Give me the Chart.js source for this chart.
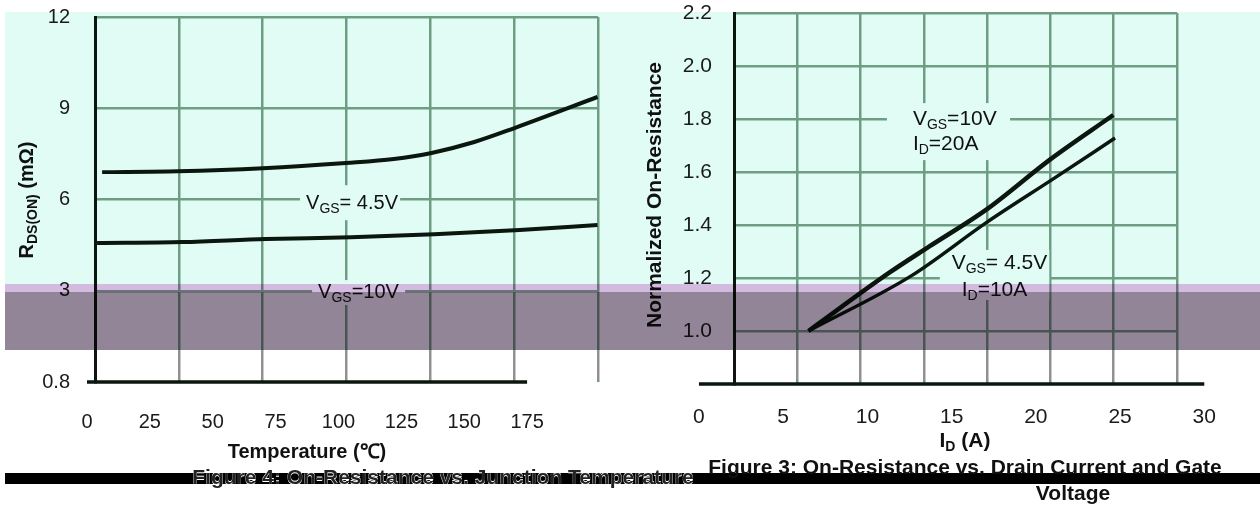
<!DOCTYPE html>
<html><head><meta charset="utf-8">
<script src="https://cdn.jsdelivr.net/npm/chart.js@4.4.1/dist/chart.umd.min.js"></script>
<style>
html,body{margin:0;padding:0;background:#fff;}
#stage{position:relative;width:1260px;height:506px;overflow:hidden;font-family:"Liberation Sans",Arial,sans-serif;}
.bg{position:absolute;left:5px;top:12px;width:1255px;height:338px;background:#e0fcf5;}
canvas{position:absolute;top:0;}
#cL{left:0;} #cR{left:620px;}
.strip{position:absolute;left:5px;width:1255px;mix-blend-mode:multiply;pointer-events:none;}
#lav{top:284px;height:8px;background:#efbde8;}
#band{top:292px;height:58px;background:#a6879e;}
#gray{position:absolute;left:0;top:350px;width:1260px;height:30px;backdrop-filter:grayscale(1);-webkit-backdrop-filter:grayscale(1);}
#bar{position:absolute;left:5px;top:473px;width:1255px;height:11px;background:#000;}
.cap{position:absolute;font-weight:bold;font-size:21px;white-space:nowrap;transform:translate(-50%,-50%);line-height:1;color:#111;}
#capL{left:443px;top:476px;color:#222;text-shadow:0 -1px 0 #fff,0 1px 0 #fff;}
#capR1{left:965px;top:466px;}
#capR2{left:1073px;top:492px;}
</style></head>
<body>
<div id="stage">
  <div class="bg"></div>
  <canvas id="cL" width="620" height="506"></canvas>
  <canvas id="cR" width="640" height="506"></canvas>
  <div id="lav" class="strip"></div>
  <div id="band" class="strip"></div>
  <div id="gray"></div>
  <div id="bar"></div>
  <div id="capL" class="cap">Figure 4: On-Resistance vs. Junction Temperature</div>
  <div id="capR1" class="cap">Figure 3: On-Resistance vs. Drain Current and Gate</div>
  <div id="capR2" class="cap">Voltage</div>
</div>
<script>
// ---------------- data ----------------
// Left chart: R_DS(ON) vs temperature
const leftXTicks = [0, 25, 50, 75, 100, 125, 150, 175];
const leftYTicks = [0, 3, 6, 9, 12];
const leftYTickLabels = ['0.8', '3', '6', '9', '12'];
const leftTemp45 = [6, 36, 70, 103, 122, 137, 154, 170, 203];
const leftR45    = [6.90, 6.93, 7.03, 7.20, 7.33, 7.53, 7.89, 8.35, 9.37];
const leftTemp10 = [4, 38, 71, 105, 138, 172, 203];
const leftR10    = [4.57, 4.60, 4.70, 4.76, 4.86, 5.00, 5.16];
const leftNoteTexts = [['V', 'GS', '= 4.5V'], ['V', 'GS', '=10V']];

// Right chart: normalized on-resistance vs drain current
const rightXTicks = [0, 5, 10, 15, 20, 25, 30];
const rightYTicks = [0.8, 1.0, 1.2, 1.4, 1.6, 1.8, 2.0, 2.2];
const rightYTickLabels = ['', '1.0', '1.2', '1.4', '1.6', '1.8', '2.0', '2.2'];
const rightId10 = [6.5, 11.3, 13.7, 17.1, 20.8, 24.6];
const rightN10  = [1.00, 1.22, 1.32, 1.46, 1.645, 1.815];
const rightId45 = [6.5, 12.6, 17.1, 21.1, 24.7];
const rightN45  = [1.00, 1.208, 1.411, 1.577, 1.728];
const rightNoteTexts = [['V', 'GS', '=10V'], ['I', 'D', '=20A'], ['V', 'GS', '= 4.5V'], ['I', 'D', '=10A']];

// ---------------- drawing helpers ----------------
const GRID = '#6e9d84';
const LINE = '#0b160e';
const MINT = '#e0fcf5';
const FONT = '"Liberation Sans", Arial, sans-serif';

function rich(t, size, bold) {
  return [
    {t: t[0], s: size, b: bold},
    {t: t[1], s: Math.round(size * 0.68), b: bold, dy: size * 0.3},
    {t: t[2], s: size, b: bold}
  ];
}
function drawRich(ctx, x, y, parts, align, rot) {
  ctx.save();
  ctx.translate(x, y);
  if (rot) ctx.rotate(rot);
  let total = 0;
  parts.forEach(p => {
    ctx.font = (p.b ? 'bold ' : '') + p.s + 'px ' + FONT;
    p.w = ctx.measureText(p.t).width; total += p.w;
  });
  let cx = align === 'center' ? -total / 2 : 0;
  ctx.textBaseline = 'middle'; ctx.textAlign = 'left'; ctx.fillStyle = '#111';
  parts.forEach(p => {
    ctx.font = (p.b ? 'bold ' : '') + p.s + 'px ' + FONT;
    ctx.fillText(p.t, cx, p.dy || 0);
    cx += p.w;
  });
  ctx.restore();
}

function decor(o) {
  return {
    id: 'decor' + o.id,
    beforeDatasetsDraw(chart) {
      const ctx = chart.ctx, xs = chart.scales.x, ys = chart.scales.y;
      ctx.save(); ctx.fillStyle = MINT;
      o.masks.forEach(m => {
        const x1 = xs.getPixelForValue(m[0]), x2 = xs.getPixelForValue(m[1]);
        const y1 = ys.getPixelForValue(m[3]), y2 = ys.getPixelForValue(m[2]);
        ctx.fillRect(x1, y1, x2 - x1, y2 - y1);
      });
      ctx.restore();
    },
    afterDatasetsDraw(chart) {
      const ctx = chart.ctx, xs = chart.scales.x, ys = chart.scales.y;
      o.notes.forEach(n => {
        drawRich(ctx, xs.getPixelForValue(n.x), ys.getPixelForValue(n.y), rich(n.t, o.noteSize, false), 'left');
      });
    },
    afterDraw(chart) {
      const ctx = chart.ctx, xs = chart.scales.x, a = chart.chartArea;
      ctx.save();
      ctx.strokeStyle = LINE; ctx.lineWidth = 3.5;
      ctx.beginPath();
      ctx.moveTo(xs.getPixelForValue(o.xTicks[0]), a.bottom);
      ctx.lineTo(xs.getPixelForValue(o.xTicks[o.xTicks.length - 1]), a.bottom);
      ctx.stroke();
      ctx.restore();
      o.titles.forEach(t => drawRich(ctx, t.x, t.y, t.parts, 'center', t.rot));
    }
  };
}

function noPad(s) { s.paddingTop = 0; s.paddingBottom = 0; s.paddingLeft = 0; s.paddingRight = 0; }

function makeChart(canvas, o) {
  return new Chart(canvas, {
    type: 'line',
    data: {
      datasets: o.series.map(s => ({
        data: s.x.map((x, i) => ({x: x, y: s.y[i]})),
        xAxisID: 'x', yAxisID: 'y',
        borderColor: LINE, borderWidth: s.w, pointRadius: 0,
        cubicInterpolationMode: 'monotone', fill: false
      }))
    },
    options: {
      responsive: false, animation: false, devicePixelRatio: 1,
      layout: {padding: o.pad},
      plugins: {legend: {display: false}, tooltip: {enabled: false}},
      scales: {
        xg: {
          type: 'linear', position: 'top', min: 0, max: o.gridCols, bounds: 'data',
          ticks: {display: false, stepSize: 1},
          grid: {color: GRID, lineWidth: 2.5, drawTicks: false},
          border: {display: false},
          afterFit: s => { s.height = 0; noPad(s); }
        },
        x: {
          type: 'linear', position: 'bottom', min: o.xMin, max: o.xMax, bounds: 'data',
          afterBuildTicks: s => { s.ticks = o.xTicks.map(v => ({value: v})); },
          ticks: {autoSkip: false, maxRotation: 0, padding: o.xTickPad, color: '#1a1a1a',
                  font: {family: FONT, size: o.tickSize}, callback: v => String(v)},
          grid: {display: false, drawTicks: false},
          border: {display: false},
          afterFit: s => { s.height = o.xAxisH; noPad(s); }
        },
        y: {
          type: 'linear', position: 'left', min: o.yMin, max: o.yMax, bounds: 'data',
          afterBuildTicks: s => { s.ticks = o.yTicks.map(v => ({value: v})); },
          ticks: {padding: o.yTickPad, color: '#1a1a1a', font: {family: FONT, size: o.tickSize},
                  callback: (v, i) => o.yLabels[i]},
          grid: {color: c => (c.tick && Math.abs(c.tick.value - o.yMin) < 1e-9) ? 'rgba(0,0,0,0)' : GRID,
                 lineWidth: 2.5, drawTicks: false},
          border: {display: true, color: LINE, width: 3},
          afterFit: s => { s.width = o.yAxisW; noPad(s); }
        }
      }
    },
    plugins: [decor(o)]
  });
}

// ---------------- left chart ----------------
makeChart(document.getElementById('cL'), {
  id: 'L',
  pad: {left: 0, right: 22, top: 17, bottom: 64},
  yAxisW: 95, xAxisH: 60, xTickPad: 28, yTickPad: 25, tickSize: 20,
  gridCols: 6, xMin: 3.18, xMax: 203.2, xTicks: leftXTicks,
  yMin: 0, yMax: 12, yTicks: leftYTicks, yLabels: leftYTickLabels,
  series: [{x: leftTemp45, y: leftR45, w: 4}, {x: leftTemp10, y: leftR10, w: 4}],
  noteSize: 20,
  masks: [[84.7, 124.5, 5.32, 6.47], [89.5, 126.5, 2.53, 3.35]],
  notes: [{x: 87.1, y: 5.88, t: leftNoteTexts[0]}, {x: 91.9, y: 2.95, t: leftNoteTexts[1]}],
  titles: [
    {x: 307, y: 452, parts: [{t: 'Temperature (\u2103)', s: 20, b: true}]},
    {x: 27, y: 200, rot: -Math.PI / 2, parts: rich(['R', 'DS(ON)', ' (m\u03A9)'], 20, true)}
  ]
});

// ---------------- right chart ----------------
makeChart(document.getElementById('cR'), {
  id: 'R',
  pad: {left: 0, right: 83, top: 13, bottom: 62},
  yAxisW: 114, xAxisH: 60, xTickPad: 21, yTickPad: 22, tickSize: 21,
  gridCols: 7, xMin: 2.08, xMax: 28.38, xTicks: rightXTicks,
  yMin: 0.8, yMax: 2.2, yTicks: rightYTicks, yLabels: rightYTickLabels,
  series: [{x: rightId10, y: rightN10, w: 4.5}, {x: rightId45, y: rightN45, w: 3.5}],
  noteSize: 21,
  masks: [[11.16, 18.47, 1.645, 1.860], [14.3, 20.8, 1.117, 1.306]],
  notes: [{x: 12.7, y: 1.80, t: rightNoteTexts[0]}, {x: 12.7, y: 1.706, t: rightNoteTexts[1]},
          {x: 15.0, y: 1.257, t: rightNoteTexts[2]}, {x: 15.6, y: 1.155, t: rightNoteTexts[3]}],
  titles: [
    {x: 345, y: 441, parts: rich(['I', 'D', ' (A)'], 21, true)},
    {x: 35, y: 195, rot: -Math.PI / 2, parts: [{t: 'Normalized On-Resistance', s: 21, b: true}]}
  ]
});
</script>
</body></html>
